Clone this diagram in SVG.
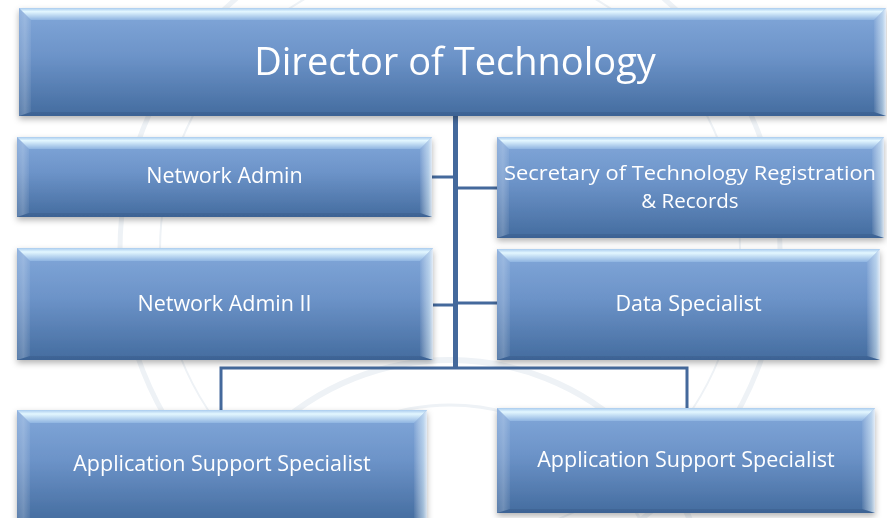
<svg xmlns="http://www.w3.org/2000/svg" width="887" height="518" viewBox="0 0 887 518">
  <defs>
    <style>
      .face { fill: url(#faceGrad); }
      .bevT { fill: url(#bevTop); }
      .bevL { fill: url(#bevLeft); }
      .bevR { fill: url(#bevRight); }
      .bevB { fill: #1f3d66; fill-opacity: 0.18; }
      .lbl { font-family: 'Open Sans', 'Liberation Sans', sans-serif; fill: #ffffff; text-anchor: middle; font-size: 21.5px; }
      .title { font-size: 38px; }
      .two { font-size: 20.5px; }
      .wire { fill: none; stroke: #44699c; stroke-linecap: butt; }
      .seal { fill: none; stroke: #eef2f6; }
    </style>
    <linearGradient id="faceGrad" x1="0" y1="0" x2="0" y2="1">
      <stop offset="0" stop-color="#82a8da"/>
      <stop offset="0.45" stop-color="#6c93c8"/>
      <stop offset="1" stop-color="#446c9f"/>
    </linearGradient>
    <linearGradient id="bevTop" x1="0" y1="0" x2="0" y2="1">
      <stop offset="0" stop-color="#a9cbee"/>
      <stop offset="0.3" stop-color="#e3f7ff"/>
      <stop offset="1" stop-color="#8fb4e1"/>
    </linearGradient>
    <linearGradient id="bevLeft" x1="0" y1="0" x2="1" y2="0">
      <stop offset="0" stop-color="#ffffff" stop-opacity="0.12"/>
      <stop offset="0.5" stop-color="#ffffff" stop-opacity="0.22"/>
      <stop offset="1" stop-color="#ffffff" stop-opacity="0.06"/>
    </linearGradient>
    <linearGradient id="bevRight" x1="0" y1="0" x2="1" y2="0">
      <stop offset="0" stop-color="#ffffff" stop-opacity="0.05"/>
      <stop offset="0.7" stop-color="#e6f7ff" stop-opacity="0.55"/>
      <stop offset="1" stop-color="#ffffff" stop-opacity="0.8"/>
    </linearGradient>
    <filter id="shadow" x="-5%" y="-10%" width="110%" height="130%">
      <feDropShadow dx="0" dy="3" stdDeviation="3" flood-color="#000000" flood-opacity="0.3"/>
    </filter>
  </defs>

  <!-- page background with a faint seal watermark -->
  <rect width="887" height="518" fill="#ffffff"/>
  <g class="seal">
    <circle cx="450" cy="620" r="260" stroke-width="6"/>
    <circle cx="450" cy="620" r="215" stroke-width="3"/>
    <circle cx="450" cy="250" r="330" stroke-width="5"/>
    <circle cx="450" cy="250" r="290" stroke-width="2"/>
  </g>

  <!-- connectors -->
  <g id="connectors">
    <line class="wire" x1="455.5" y1="114" x2="455.5" y2="369" stroke-width="5"/>
    <line class="wire" x1="430" y1="177" x2="454" y2="177" stroke-width="3"/>
    <line class="wire" x1="457" y1="188" x2="499" y2="188" stroke-width="3"/>
    <line class="wire" x1="431" y1="305" x2="454" y2="305" stroke-width="3"/>
    <line class="wire" x1="457" y1="303" x2="499" y2="303" stroke-width="3"/>
    <path class="wire" d="M221,412 V368 H687 V410" stroke-width="3"/>
  </g>

  <!-- Director of Technology -->
  <g id="director" filter="url(#shadow)">
    <rect class="face" x="19" y="8" width="867" height="108"/>
    <polygon class="bevT" points="19,8 886,8 874,20 31,20"/>
    <polygon class="bevL" points="19,8 31,20 31,112 19,116"/>
    <polygon class="bevR" points="886,8 874,20 874,112 886,116"/>
    <polygon class="bevB" points="19,116 31,112 874,112 886,116"/>
    <text class="lbl title" x="455" y="75">Director of Technology</text>
  </g>

  <!-- Network Admin -->
  <g id="network-admin" filter="url(#shadow)">
    <rect class="face" x="17" y="137" width="415" height="80"/>
    <polygon class="bevT" points="17,137 432,137 420,149 29,149"/>
    <polygon class="bevL" points="17,137 29,149 29,213 17,217"/>
    <polygon class="bevR" points="432,137 420,149 420,213 432,217"/>
    <polygon class="bevB" points="17,217 29,213 420,213 432,217"/>
    <text class="lbl" x="224.5" y="183">Network Admin</text>
  </g>

  <!-- Secretary of Technology Registration & Records -->
  <g id="secretary" filter="url(#shadow)">
    <rect class="face" x="497" y="137" width="387" height="101"/>
    <polygon class="bevT" points="497,137 884,137 872,149 509,149"/>
    <polygon class="bevL" points="497,137 509,149 509,234 497,238"/>
    <polygon class="bevR" points="884,137 872,149 872,234 884,238"/>
    <polygon class="bevB" points="497,238 509,234 872,234 884,238"/>
    <text class="lbl two" x="690" y="180"><tspan x="690" textLength="372" lengthAdjust="spacingAndGlyphs">Secretary of Technology Registration</tspan><tspan x="690" dy="28">&amp; Records</tspan></text>
  </g>

  <!-- Network Admin II -->
  <g id="network-admin-2" filter="url(#shadow)">
    <rect class="face" x="17" y="248" width="416" height="112"/>
    <polygon class="bevT" points="17,248 433,248 420,261 30,261"/>
    <polygon class="bevL" points="17,248 30,261 30,356 17,360"/>
    <polygon class="bevR" points="433,248 420,261 420,356 433,360"/>
    <polygon class="bevB" points="17,360 30,356 420,356 433,360"/>
    <text class="lbl" x="224.5" y="311">Network Admin II</text>
  </g>

  <!-- Data Specialist -->
  <g id="data-specialist" filter="url(#shadow)">
    <rect class="face" x="497" y="249" width="383" height="111"/>
    <polygon class="bevT" points="497,249 880,249 867,262 510,262"/>
    <polygon class="bevL" points="497,249 510,262 510,356 497,360"/>
    <polygon class="bevR" points="880,249 867,262 867,356 880,360"/>
    <polygon class="bevB" points="497,360 510,356 867,356 880,360"/>
    <text class="lbl" x="688.5" y="311">Data Specialist</text>
  </g>

  <!-- Application Support Specialist (left) -->
  <g id="app-support-left" filter="url(#shadow)">
    <rect class="face" x="17" y="410" width="410" height="112"/>
    <polygon class="bevT" points="17,410 427,410 414,423 30,423"/>
    <polygon class="bevL" points="17,410 30,423 30,518 17,522"/>
    <polygon class="bevR" points="427,410 414,423 414,518 427,522"/>
    <text class="lbl" x="222" y="471">Application Support Specialist</text>
  </g>

  <!-- Application Support Specialist (right) -->
  <g id="app-support-right" filter="url(#shadow)">
    <rect class="face" x="497" y="408" width="378" height="105"/>
    <polygon class="bevT" points="497,408 875,408 862,421 510,421"/>
    <polygon class="bevL" points="497,408 510,421 510,509 497,513"/>
    <polygon class="bevR" points="875,408 862,421 862,509 875,513"/>
    <polygon class="bevB" points="497,513 510,509 862,509 875,513"/>
    <text class="lbl" x="686" y="467">Application Support Specialist</text>
  </g>
</svg>
